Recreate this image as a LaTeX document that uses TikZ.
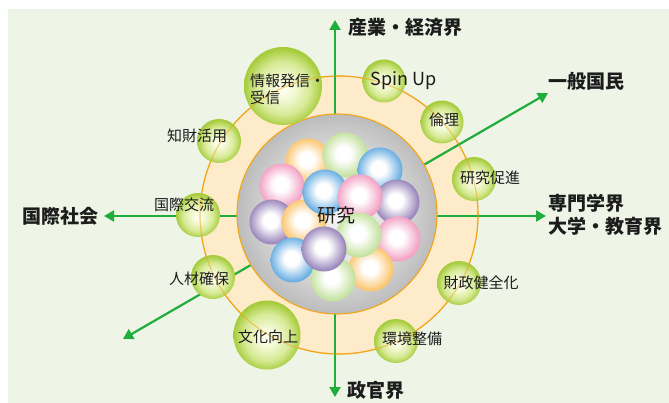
\documentclass[tikz,border=0pt]{standalone}
\usepackage{fontspec}
\setmainfont{Noto Sans CJK JP}
\usetikzlibrary{arrows.meta}

% palette
\definecolor{bgc}{HTML}{EEF4E6}
\definecolor{ringfill}{HTML}{FEEBC9}
\definecolor{ringline}{HTML}{F2A516}
\definecolor{arrowc}{HTML}{1FAE3C}
\definecolor{txt}{HTML}{1C1C1C}
% green label balls
\definecolor{gbA}{HTML}{FFFFF4}
\definecolor{gbB}{HTML}{F4F9D6}
\definecolor{gbC}{HTML}{D7EA96}
\definecolor{gbD}{HTML}{A6CC3C}
% grey core
\definecolor{grA}{HTML}{F4F4F4}
\definecolor{grB}{HTML}{E2E2E2}
\definecolor{grC}{HTML}{BCBCBC}
% pastel spheres
\definecolor{pkE}{HTML}{F2A0C3}
\definecolor{yeE}{HTML}{FBC56C}
\definecolor{grE}{HTML}{C3E19E}
\definecolor{blE}{HTML}{67ADE2}
\definecolor{puE}{HTML}{9884BA}

\pgfdeclareradialshading{greenball}{\pgfpoint{0bp}{-2bp}}{%
  color(0bp)=(gbA); color(7bp)=(gbB); color(17bp)=(gbC); color(25bp)=(gbD); color(50bp)=(gbD)}
\pgfdeclareradialshading{greycore}{\pgfpoint{0bp}{0bp}}{%
  color(0bp)=(grA); color(13bp)=(grB); color(25bp)=(grC); color(50bp)=(grC)}
\pgfdeclareradialshading{pinkball}{\pgfpoint{-2bp}{2bp}}{%
  color(0bp)=(white); color(8bp)=(white); color(25bp)=(pkE); color(50bp)=(pkE)}
\pgfdeclareradialshading{yellowball}{\pgfpoint{-2bp}{2bp}}{%
  color(0bp)=(white); color(8bp)=(white); color(25bp)=(yeE); color(50bp)=(yeE)}
\pgfdeclareradialshading{limeball}{\pgfpoint{-2bp}{2bp}}{%
  color(0bp)=(white); color(8bp)=(white); color(25bp)=(grE); color(50bp)=(grE)}
\pgfdeclareradialshading{blueball}{\pgfpoint{-2bp}{2bp}}{%
  color(0bp)=(white); color(8bp)=(white); color(25bp)=(blE); color(50bp)=(blE)}
\pgfdeclareradialshading{purpleball}{\pgfpoint{-2bp}{2bp}}{%
  color(0bp)=(white); color(8bp)=(white); color(25bp)=(puE); color(50bp)=(puE)}

\begin{document}
\begin{tikzpicture}[x=1pt,y=-1pt,
  arr/.style={draw=arrowc, line width=2.2pt,
    {Triangle[length=10pt,width=11pt]}-{Triangle[length=10pt,width=11pt]}},
  ball/.style={shade, shading=greenball},
  sph/.style={shade, shading=#1},
  lab/.style={font=\fontsize{15}{17}\selectfont, text=txt, inner sep=0pt},
  big/.style={font=\fontsize{19}{22.5}\selectfont\bfseries, text=txt, inner sep=0pt},
  core/.style={font=\fontsize{19}{22}\selectfont, text=txt, inner sep=0pt}]

\useasboundingbox (0,0) rectangle (669,403);
\fill[white] (0,0) rectangle (669,403);
\fill[bgc] (8,9.5) rectangle (669,403);

% outer ring
\coordinate (oc) at (339,215);
\filldraw[fill=ringfill, draw=ringline, line width=1.1pt] (oc) circle (139);

% axes through the centre
\coordinate (hl) at (104,216);
\coordinate (hr) at (546,216);
\coordinate (vt) at (335,20);
\coordinate (vb) at (335,397);
\coordinate (dl) at (123,339);
\coordinate (dr) at (548,93);
\draw[arr] (hl) -- (hr);
\draw[arr] (vb) -- (vt);
\draw[arr] (dl) -- (dr);

% grey core
\coordinate (ic) at (337,214);
\path[shade, shading=greycore, draw=ringline, line width=1.1pt] (ic) circle (100);

% pastel spheres
\path[sph=yellowball] (308,161) circle (22.5);
\path[sph=pinkball]   (282,186) circle (22.5);
\path[sph=limeball]   (345,155) circle (22.5);
\path[sph=blueball]   (380,170) circle (22.5);
\path[sph=purpleball] (272,222) circle (22.5);
\path[sph=yellowball] (304,222) circle (22.5);
\path[sph=purpleball] (397,202) circle (22.5);
\path[sph=blueball]   (325,192) circle (22.5);
\path[sph=pinkball]   (360,197) circle (22.5);
\path[sph=pinkball]   (398,239) circle (22.5);
\path[sph=yellowball] (371,269) circle (22.5);
\path[sph=limeball]   (359,235) circle (22.5);
\path[sph=blueball]   (293,260) circle (22.5);
\path[sph=limeball]   (333,279) circle (22.5);
\path[sph=purpleball] (324,249) circle (22.5);

\node[core] (kenkyu) at (336,215) {研究};

% label balls on the ring
\path[ball] (283,86) circle (39);
\path[ball] (384,81) circle (21.5);
\path[ball] (442,122) circle (21.5);
\path[ball] (474,179) circle (22);
\path[ball] (219,141) circle (22);
\path[ball] (198,215) circle (22);
\path[ball] (213,277) circle (22);
\path[ball] (267,335) ellipse (33.5 and 34.5);
\path[ball] (459,283) circle (22);
\path[ball] (396,341) circle (22);

% ring line seen through the balls
\draw[draw=ringline, line width=1.1pt, opacity=0.55] (oc) circle (139);

% ball labels
\node[lab, align=left, anchor=west] (joho) at (250,89) {情報発信・\\受信};
\node[lab, font=\fontsize{18}{20}\selectfont] (spin) at (403.5,81) {Spin Up};
\node[lab] (rinri) at (444,120) {倫理};
\node[lab] (sokushin) at (490,178) {研究促進};
\node[lab] (chizai) at (197,136) {知財活用};
\node[lab] (koryu) at (184,205) {国際交流};
\node[lab] (jinzai) at (199,279) {人材確保};
\node[lab] (bunka) at (268,337) {文化向上};
\node[lab] (zaisei) at (481,283) {財政健全化};
\node[lab] (kankyo) at (412,339) {環境整備};

% targets of the axes
\node[big] (sangyo) at (405,27.5) {産業・経済界};
\node[big] (kokumin) at (586,81.5) {一般国民};
\node[big, align=left, anchor=west] (senmon) at (548,215) {専門学界\\大学・教育界};
\node[big] (kokusai) at (60.5,216) {国際社会};
\node[big] (seikan) at (376,390) {政官界};
\end{tikzpicture}
\end{document}
